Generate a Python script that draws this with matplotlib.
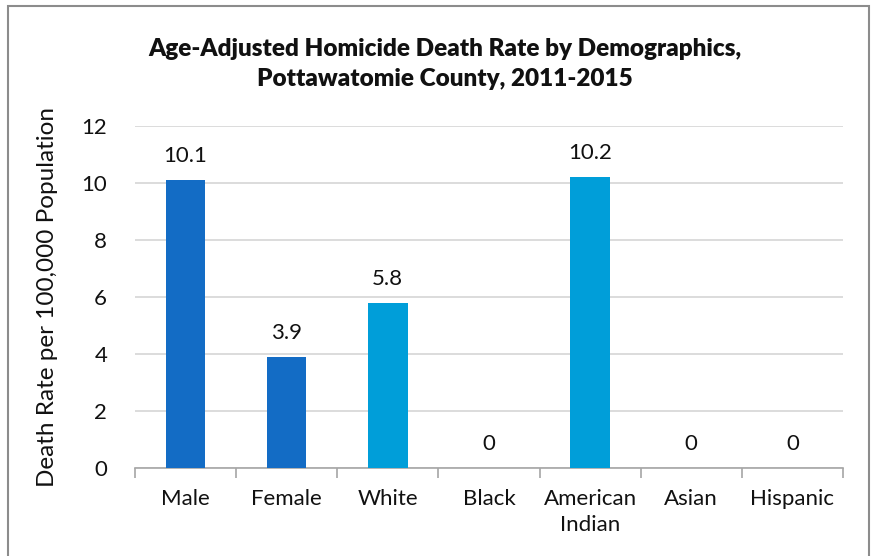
import matplotlib.pyplot as plt
from matplotlib.patches import Rectangle
import numpy as np

categories = ['Male', 'Female', 'White', 'Black', 'American\nIndian', 'Asian', 'Hispanic']
rates = [10.1, 3.9, 5.8, 0, 10.2, 0, 0]
labels = ['10.1', '3.9', '5.8', '0', '10.2', '0', '0']
colors = ['#136CC5', '#136CC5', '#009ED9', '#009ED9', '#009ED9', '#009ED9', '#009ED9']

plt.rcParams['font.family'] = ['Lato', 'DejaVu Sans']

fig = plt.figure(figsize=(8.78, 5.56), dpi=100)
ax = fig.add_axes([135 / 878, 1 - 468 / 556, 708 / 878, 342 / 556])

x = np.arange(len(categories))
ax.bar(x, rates, width=0.39, color=colors, zorder=3)

for xi, v, lab in zip(x, rates, labels):
    ax.annotate(lab, (xi, v), xytext=(0, 10), textcoords='offset points',
                ha='center', va='bottom', fontsize=16, color='#111111')

ax.set_xlim(-0.5, len(categories) - 0.5)
ax.set_ylim(0, 12)
ax.set_yticks(np.arange(0, 13, 2))
ax.yaxis.grid(True, color='#D9D9D9', linewidth=1.3, zorder=0)
ax.set_xticks(x)
ax.set_xticklabels(categories, fontsize=16, color='#111111', linespacing=1.4)
ax.set_xticks(np.arange(-0.5, len(categories)), minor=True)
ax.tick_params(axis='x', which='major', length=0, pad=15)
ax.tick_params(axis='x', which='minor', length=7, color='#A6A6A6', width=1.2)
ax.tick_params(axis='y', length=0, labelsize=16, labelcolor='#111111', pad=20)

for s in ['top', 'right', 'left']:
    ax.spines[s].set_visible(False)
ax.spines['bottom'].set_color('#A6A6A6')
ax.spines['bottom'].set_linewidth(1.2)

ax.set_ylabel('Death Rate per 100,000 Population', fontsize=17.5, color='#111111', labelpad=17)

fig.text(445 / 878, 1 - 64 / 556,
         'Age-Adjusted Homicide Death Rate by Demographics,\nPottawatomie County, 2011-2015',
         ha='center', va='center', fontsize=17.5, fontweight='heavy', color='#111111',
         linespacing=1.5)

fig.patches.append(Rectangle((8 / 878, -0.05), 861 / 878, 1.05 - 6 / 556,
                             transform=fig.transFigure, fill=False,
                             edgecolor='#8C8C8C', linewidth=1.5))

fig.savefig('out.png', dpi=100)
